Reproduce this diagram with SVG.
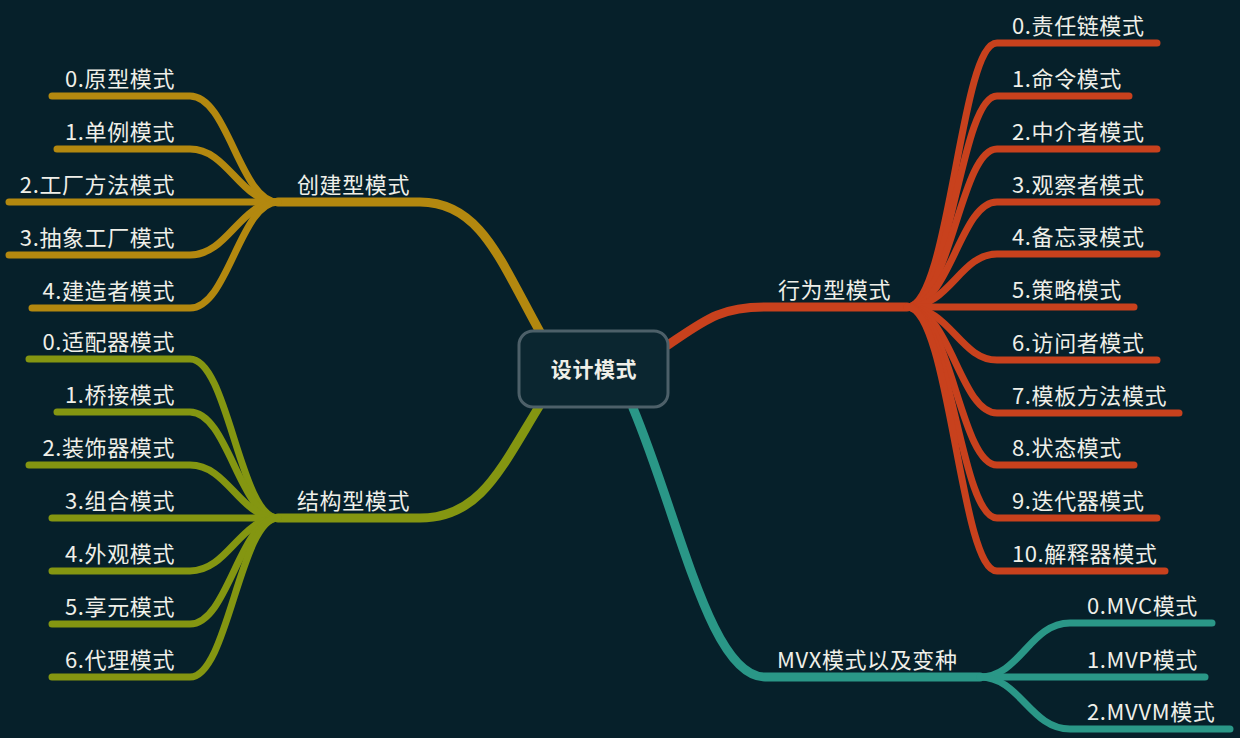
<svg xmlns="http://www.w3.org/2000/svg" width="1240" height="738" viewBox="0 0 1240 738">
<style>
.t{font-family:"Noto Sans CJK SC","Noto Sans",sans-serif;font-size:22px;fill:#efefe8;letter-spacing:0.6px}
.e{text-anchor:end}
.ln{fill:none;stroke-linecap:round;stroke-linejoin:round}
.main{stroke-width:9}
.sub{stroke-width:7}
.gold{stroke:#b3880f}
.olive{stroke:#849611}
.red{stroke:#c8411d}
.teal{stroke:#2a9787}
</style>
<rect width="1240" height="738" fill="#06202a"/>
<g id="connectors">
  <path class="ln main gold" d="M540 332 C500 260 480 202 420 202 H278"/>
  <path class="ln main olive" d="M540 405 C500 470 480 518 420 518 H278"/>
  <path class="ln main red" d="M668 345 C705 320 720 307 765 307 H907"/>
  <path class="ln main teal" d="M633 408 C680 520 710 677 765 677 H980"/>
  <g class="ln sub gold">
    <path d="M278 202 C240 202 228 96 190 96 H52"/>
    <path d="M278 202 C240 202 228 149 190 149 H57"/>
    <path d="M278 202 H9"/>
    <path d="M278 202 C240 202 228 255 190 255 H9"/>
    <path d="M278 202 C240 202 228 308 190 308 H32"/>
  </g>
  <g class="ln sub olive">
    <path d="M278 518 C240 518 228 359 190 359 H29"/>
    <path d="M278 518 C240 518 228 412 190 412 H57"/>
    <path d="M278 518 C240 518 228 465 190 465 H29"/>
    <path d="M278 518 H52"/>
    <path d="M278 518 C240 518 228 571 190 571 H52"/>
    <path d="M278 518 C240 518 228 624 190 624 H52"/>
    <path d="M278 518 C240 518 228 677 190 677 H52"/>
  </g>
  <g class="ln sub red">
    <path d="M907 307 C950 307 960 43 997 43 H1157"/>
    <path d="M907 307 C950 307 960 96 997 96 H1129"/>
    <path d="M907 307 C950 307 960 149 997 149 H1157"/>
    <path d="M907 307 C950 307 960 202 997 202 H1157"/>
    <path d="M907 307 C950 307 960 254 997 254 H1157"/>
    <path d="M907 307 H1134"/>
    <path d="M907 307 C950 307 960 360 997 360 H1157"/>
    <path d="M907 307 C950 307 960 413 997 413 H1179"/>
    <path d="M907 307 C950 307 960 465 997 465 H1134"/>
    <path d="M907 307 C950 307 960 518 997 518 H1157"/>
    <path d="M907 307 C950 307 960 571 997 571 H1165"/>
  </g>
  <g class="ln sub teal">
    <path d="M980 677 C1020 677 1030 623 1070 623 H1212"/>
    <path d="M980 677 H1205"/>
    <path d="M980 677 C1020 677 1030 729 1070 729 H1230"/>
  </g>
</g>
<g id="root">
  <rect x="519" y="331" width="149" height="76" rx="14" fill="#0b2630" stroke="#4d6069" stroke-width="3"/>
  <text class="t" x="594" y="377" text-anchor="middle" font-weight="bold" style="font-size:21px">设计模式</text>
</g>
<g id="creational"><text class="t" x="297" y="193">创建型模式</text></g>
<g id="c0"><text class="t e" x="175" y="87">0.原型模式</text></g>
<g id="c1"><text class="t e" x="175" y="140">1.单例模式</text></g>
<g id="c2"><text class="t e" x="175" y="193">2.工厂方法模式</text></g>
<g id="c3"><text class="t e" x="175" y="246">3.抽象工厂模式</text></g>
<g id="c4"><text class="t e" x="175" y="299">4.建造者模式</text></g>
<g id="structural"><text class="t" x="297" y="509">结构型模式</text></g>
<g id="s0"><text class="t e" x="175" y="350">0.适配器模式</text></g>
<g id="s1"><text class="t e" x="175" y="403">1.桥接模式</text></g>
<g id="s2"><text class="t e" x="175" y="456">2.装饰器模式</text></g>
<g id="s3"><text class="t e" x="175" y="509">3.组合模式</text></g>
<g id="s4"><text class="t e" x="175" y="562">4.外观模式</text></g>
<g id="s5"><text class="t e" x="175" y="615">5.享元模式</text></g>
<g id="s6"><text class="t e" x="175" y="668">6.代理模式</text></g>
<g id="behavioral"><text class="t" x="778" y="298">行为型模式</text></g>
<g id="r0"><text class="t" x="1012" y="34">0.责任链模式</text></g>
<g id="r1"><text class="t" x="1012" y="87">1.命令模式</text></g>
<g id="r2"><text class="t" x="1012" y="140">2.中介者模式</text></g>
<g id="r3"><text class="t" x="1012" y="193">3.观察者模式</text></g>
<g id="r4"><text class="t" x="1012" y="245">4.备忘录模式</text></g>
<g id="r5"><text class="t" x="1012" y="298">5.策略模式</text></g>
<g id="r6"><text class="t" x="1012" y="351">6.访问者模式</text></g>
<g id="r7"><text class="t" x="1012" y="404">7.模板方法模式</text></g>
<g id="r8"><text class="t" x="1012" y="456">8.状态模式</text></g>
<g id="r9"><text class="t" x="1012" y="509">9.迭代器模式</text></g>
<g id="r10"><text class="t" x="1012" y="562">10.解释器模式</text></g>
<g id="mvx"><text class="t" x="777" y="668">MVX模式以及变种</text></g>
<g id="m0"><text class="t" x="1087" y="614">0.MVC模式</text></g>
<g id="m1"><text class="t" x="1087" y="668">1.MVP模式</text></g>
<g id="m2"><text class="t" x="1087" y="720">2.MVVM模式</text></g>
</svg>
